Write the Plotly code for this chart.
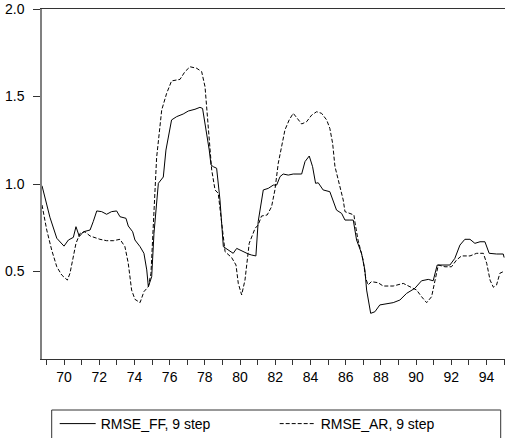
import plotly.graph_objects as go

# RMSE of 9-step-ahead forecasts: factor model (FF) vs autoregression (AR)
ff_t = [68.75, 69.2, 69.59, 70.0, 70.25, 70.53, 70.68, 70.87, 71.1, 71.48, 71.66, 71.86,
        72.14, 72.42, 72.7, 72.99, 73.18, 73.52, 73.65, 73.9, 74.03, 74.32, 74.54, 74.7,
        74.79, 74.98, 75.11, 75.36, 75.64, 75.79, 76.11, 76.4, 76.77, 77.06, 77.44, 77.72,
        77.87, 78.1, 78.25, 78.35, 78.48, 78.67, 78.86, 79.05, 79.43, 79.61, 79.81, 80.18,
        80.47, 80.66, 80.9, 81.03, 81.32, 81.6, 81.89, 82.08, 82.27, 82.45, 82.74, 83.02,
        83.5, 83.69, 83.93, 84.12, 84.29, 84.44, 84.72, 85.1, 85.29, 85.48, 85.77, 85.96,
        86.24, 86.43, 86.62, 86.9, 87.09, 87.19, 87.42, 87.66, 87.94, 88.33, 88.7, 89.08,
        89.46, 89.93, 90.31, 90.69, 90.97, 91.2, 91.54, 91.92, 92.2, 92.49, 92.77, 93.06,
        93.34, 93.63, 93.91, 94.15, 94.57, 94.95, 95.0]
ff_v = [0.99, 0.81, 0.69, 0.645, 0.68, 0.695, 0.756, 0.70, 0.727, 0.737, 0.785, 0.846,
        0.842, 0.827, 0.842, 0.846, 0.813, 0.804, 0.76, 0.727, 0.68, 0.642, 0.604, 0.509,
        0.413, 0.47, 0.718, 1.004, 1.04, 1.194, 1.366, 1.385, 1.40, 1.417, 1.427, 1.438,
        1.432, 1.29, 1.194, 1.109, 1.099, 1.09, 0.909, 0.642, 0.613, 0.604, 0.632, 0.613,
        0.60, 0.594, 0.589, 0.785, 0.966, 0.975, 0.994, 0.994, 1.042, 1.057, 1.051, 1.057,
        1.057, 1.128, 1.16, 1.099, 1.004, 1.007, 0.966, 0.956, 0.90, 0.851, 0.832, 0.794,
        0.794, 0.794, 0.68, 0.604, 0.509, 0.394, 0.261, 0.27, 0.309, 0.314, 0.322, 0.337,
        0.375, 0.404, 0.447, 0.455, 0.447, 0.537, 0.537, 0.537, 0.575, 0.651, 0.684, 0.684,
        0.661, 0.67, 0.67, 0.604, 0.60, 0.60, 0.58]

ar_t = [68.75, 69.02, 69.3, 69.59, 69.87, 70.19, 70.34, 70.53, 70.68, 70.91, 71.19, 71.48,
        72.04, 72.42, 72.8, 73.18, 73.46, 73.65, 73.84, 74.03, 74.32, 74.54, 74.79, 74.94,
        75.07, 75.26, 75.55, 75.83, 76.11, 76.59, 76.87, 77.16, 77.54, 77.82, 78.01, 78.19,
        78.29, 78.39, 78.58, 78.76, 78.96, 79.15, 79.52, 79.77, 79.9, 80.09, 80.28, 80.52,
        80.85, 81.03, 81.22, 81.54, 81.79, 81.98, 82.17, 82.36, 82.55, 82.79, 83.02, 83.25,
        83.5, 83.78, 84.07, 84.35, 84.63, 84.92, 85.1, 85.26, 85.39, 85.58, 85.86, 85.96,
        86.24, 86.47, 86.52, 86.7, 86.99, 87.14, 87.27, 87.46, 87.84, 88.13, 88.7, 89.27,
        89.65, 90.03, 90.31, 90.6, 90.88, 91.12, 91.26, 91.64, 92.01, 92.3, 92.58, 93.06,
        93.44, 93.82, 94.01, 94.2, 94.39, 94.57, 94.76, 94.95]
ar_v = [0.88, 0.737, 0.623, 0.527, 0.48, 0.451, 0.49, 0.585, 0.661, 0.718, 0.727, 0.703,
        0.684, 0.676, 0.676, 0.684, 0.642, 0.547, 0.394, 0.341, 0.322, 0.385, 0.413, 0.49,
        0.794, 1.15, 1.423, 1.518, 1.589, 1.598, 1.642, 1.67, 1.661, 1.642, 1.556, 1.309,
        1.213, 1.08, 0.966, 0.947, 0.775, 0.613, 0.58, 0.537, 0.432, 0.366, 0.451, 0.661,
        0.746, 0.766, 0.817, 0.823, 0.87, 0.966, 1.118, 1.21, 1.309, 1.366, 1.404, 1.375,
        1.343, 1.356, 1.394, 1.413, 1.404, 1.366, 1.318, 1.232, 1.10, 1.023, 0.909, 0.842,
        0.832, 0.823, 0.785, 0.68, 0.566, 0.461, 0.423, 0.442, 0.436, 0.417, 0.417, 0.432,
        0.413, 0.394, 0.356, 0.322, 0.356, 0.48, 0.537, 0.527, 0.527, 0.566, 0.589, 0.589,
        0.604, 0.604, 0.547, 0.451, 0.41, 0.423, 0.49, 0.499]

series_names = ["RMSE_FF, 9 step", "RMSE_AR, 9 step"]

year_ticks = list(range(69, 96))
year_labels = [str(y) if y % 2 == 0 and y <= 94 else "" for y in year_ticks]
y_ticks = [0.5, 1.0, 1.5, 2.0]
y_labels = ["0.5", "1.0", "1.5", "2.0"]

FONT = "Liberation Sans, Arial, sans-serif"

fig = go.Figure()
fig.add_trace(go.Scatter(x=ff_t, y=ff_v, mode="lines", name=series_names[0],
                         line=dict(color="black", width=1)))
fig.add_trace(go.Scatter(x=ar_t, y=ar_v, mode="lines", name=series_names[1],
                         line=dict(color="black", width=1, dash="4px,2px")))

fig.update_layout(
    width=506, height=438,
    margin=dict(l=42, r=1, t=9, b=79, autoexpand=False),
    paper_bgcolor="white", plot_bgcolor="white",
    font=dict(family=FONT, size=14, color="black"),
    showlegend=True,
    legend=dict(orientation="h", x=(54.7 - 42) / 463, xanchor="left",
                y=-(408 - 359) / 350, yanchor="top",
                entrywidth=169, entrywidthmode="pixels", itemwidth=36,
                bgcolor="rgba(0,0,0,0)", borderwidth=0,
                font=dict(family=FONT, size=14, color="black")),
    xaxis=dict(range=[68.75, 95.05], tickmode="array", tickvals=year_ticks,
               ticktext=year_labels, ticks="outside", ticklen=5, tickwidth=1,
               tickcolor="#333333", showline=True, linecolor="#333333", linewidth=1,
               mirror=True, showgrid=False, zeroline=False,
               tickfont=dict(family=FONT, size=14, color="black")),
    yaxis=dict(range=[0, 2.0], tickmode="array", tickvals=y_ticks, ticktext=y_labels,
               ticks="outside", ticklen=7, tickwidth=1, tickcolor="#333333",
               ticklabelstandoff=6,
               showline=True, linecolor="#808080", linewidth=1.5,
               showgrid=False, zeroline=False,
               tickfont=dict(family=FONT, size=14, color="black")),
    shapes=[dict(type="rect", xref="paper", yref="paper",
                 x0=(51.7 - 42) / 463, x1=(500.7 - 42) / 463,
                 y0=-(410 - 359) / 350, y1=-(460 - 359) / 350,
                 line=dict(color="#333333", width=1), fillcolor="rgba(0,0,0,0)")],
)

fig.write_html("out.html")
